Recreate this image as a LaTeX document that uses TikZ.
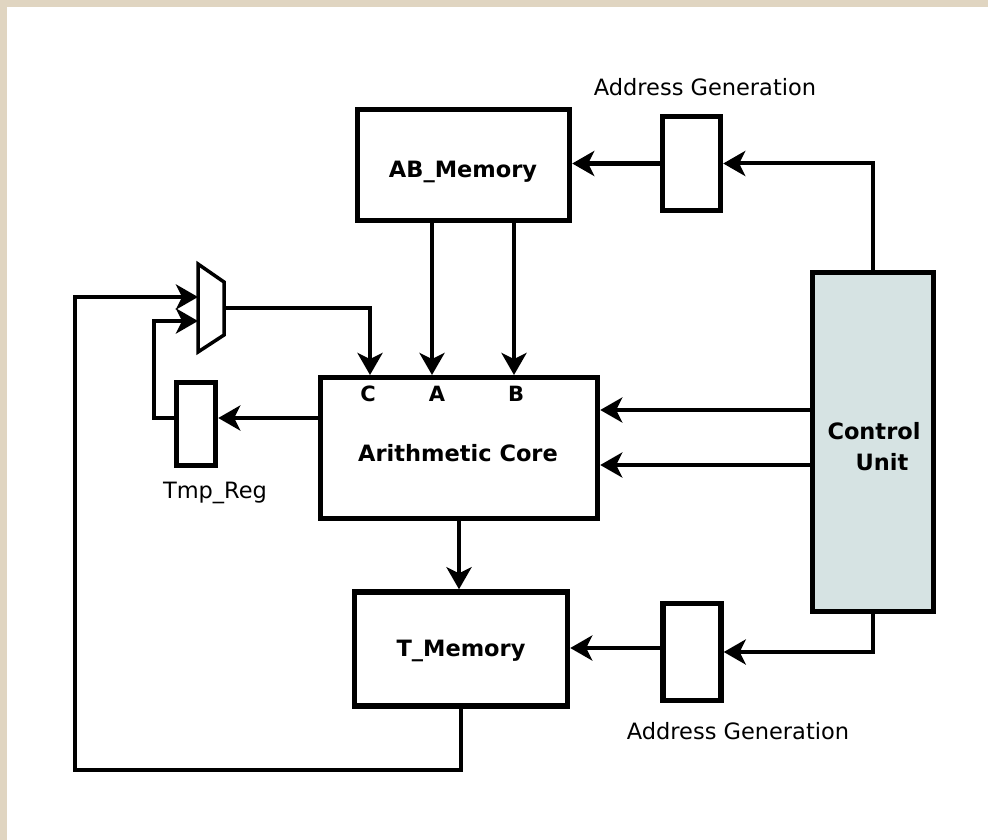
\documentclass[tikz,border=0pt]{standalone}
\usepackage{fontspec}
\setmainfont{DejaVu Sans}
\usetikzlibrary{arrows.meta}
\definecolor{beige}{HTML}{E0D5C1}
\definecolor{cufill}{HTML}{D6E3E3}
\tikzset{
  blk/.style={draw=black, line width=5.5pt, fill=white, rectangle, inner sep=0pt},
  btxt/.style={font=\fontsize{22.5}{26}\selectfont\bfseries, inner sep=0pt},
  tip/.style={-{Stealth[length=22pt,width=25pt,inset=6pt]}},
  conn/.style={line width=4.8pt, tip},
  thinconn/.style={line width=3.4pt, tip},
  lbl/.style={font=\fontsize{22.5}{26}\selectfont, inner sep=0pt},
  pin/.style={font=\fontsize{21}{24}\selectfont\bfseries, inner sep=0pt}
}
\begin{document}
\begin{tikzpicture}[x=1pt,y=-1pt]
\useasboundingbox (0,0) rectangle (988,840);
\fill[beige] (0,0) rectangle (988,840);
\fill[white] (7,7) rectangle (988,840);

% blocks
\node[blk, minimum width=212pt, minimum height=111pt] (abm) at (463.5,165) {};
\node[blk, minimum width=58pt, minimum height=94pt] (agt) at (691.5,163.5) {};
\node[blk, fill=cufill, minimum width=121pt, minimum height=339pt] (cu) at (873,442) {};
\node[blk, minimum width=277pt, minimum height=141pt] (ac) at (459,448) {};
\node[blk, minimum width=39pt, minimum height=83pt] (tmp) at (196,424) {};
\node[blk, minimum width=213pt, minimum height=114pt] (tm) at (461,649) {};
\node[blk, minimum width=58pt, minimum height=97pt] (agb) at (692,652) {};

% texts
\node[btxt] (abmtxt) at (463,172) {AB\_Memory};
\node[btxt] (actxt) at (458,453) {Arithmetic Core};
\node[btxt] (tmtxt) at (461,651) {T\_Memory};
\node[btxt] (cutxt1) at (874,431) {Control};
\node[btxt] (cutxt2) at (882,462) {Unit};
\node[lbl] (lagt) at (705,87) {Address Generation};
\node[lbl] (lagb) at (738,731) {Address Generation};
\node[lbl] (ltmp) at (215,493) {Tmp\_Reg};
\node[pin] (lc) at (368,394) {C};
\node[pin] (la) at (437,394) {A};
\node[pin] (lb) at (516,394) {B};

% mux
\draw[line width=3.5pt, fill=white] (198,264) -- (224,282) -- (224,335) -- (198,352) -- cycle;
\coordinate (muxout) at (224,308);
\coordinate (min1) at (198,297);
\coordinate (min2) at (198,321);

% helper coordinates
\coordinate (pinC) at (370,375);
\coordinate (pinA) at (432,375);
\coordinate (pinB) at (514,375);
\coordinate (r1) at (0,410);
\coordinate (r2) at (0,465);
\coordinate (t1) at (0,418);
\coordinate (lpt) at (154,321);
\coordinate (fb1) at (75,770);
\coordinate (yb) at (0,648);

% connectors
\draw[line width=4pt, tip] (cu.north) |- (agt.east);
\draw[conn] (agt.west) -- (agt.west -| abm.east);
\draw[conn] (abm.south -| pinA) -- (pinA);
\draw[conn] (abm.south -| pinB) -- (pinB);
\draw[conn] (muxout) -| (pinC);
\draw[thinconn] (cu.west |- r1) -- (ac.east |- r1);
\draw[thinconn] (cu.west |- r2) -- (ac.east |- r2);
\draw[conn] (ac.west |- t1) -- (tmp.east |- t1);
\draw[conn] (tmp.west |- t1) -| (lpt) -- (min2);
\draw[conn] (ac.south) -- (ac.south |- tm.north);
\draw[line width=4pt, tip] (cu.south) |- (agb.east);
\draw[conn] (agb.west |- yb) -- (tm.east |- yb);
\draw[conn] (tm.south) |- (fb1) |- (min1);
\end{tikzpicture}
\end{document}
